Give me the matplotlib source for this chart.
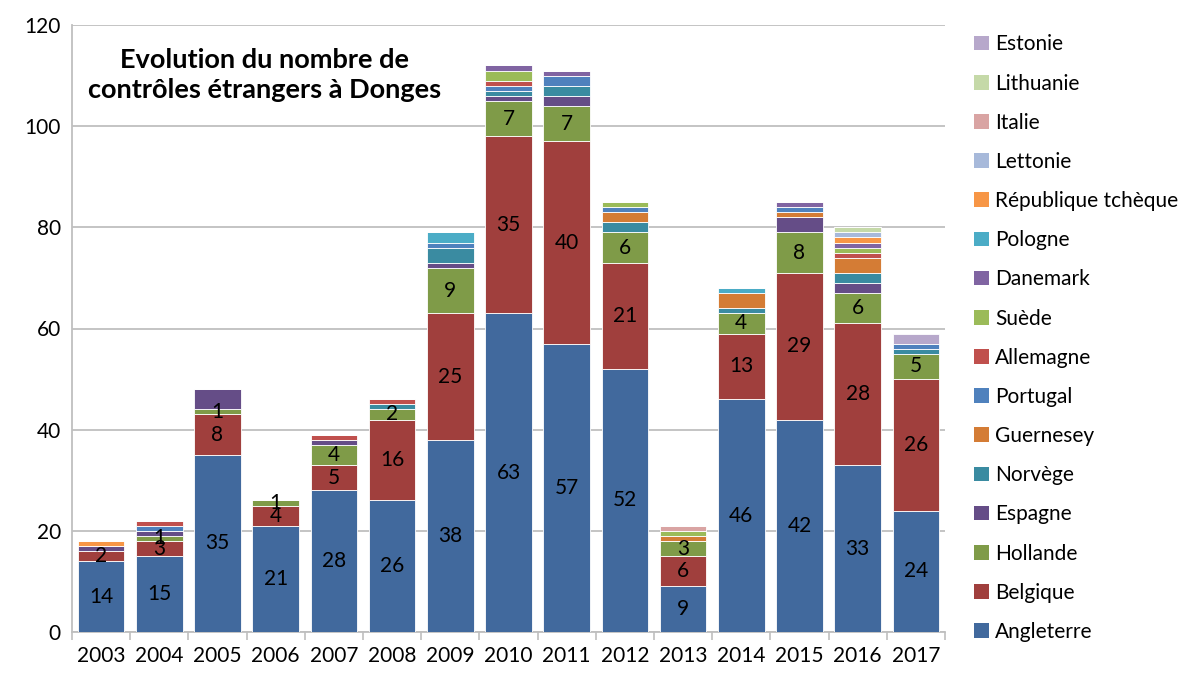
import matplotlib
matplotlib.use("Agg")
import matplotlib.pyplot as plt
from matplotlib.patches import Patch
import numpy as np

plt.rcParams['font.family'] = ['Lato', 'DejaVu Sans']

years = ['2003', '2004', '2005', '2006', '2007', '2008', '2009', '2010',
         '2011', '2012', '2013', '2014', '2015', '2016', '2017']

series_names = ['Angleterre', 'Belgique', 'Hollande', 'Espagne', 'Norvège',
                'Guernesey', 'Portugal', 'Allemagne', 'Suède', 'Danemark',
                'Pologne', 'République tchèque', 'Lettonie', 'Italie',
                'Lithuanie', 'Estonie']

angleterre = [14, 15, 35, 21, 28, 26, 38, 63, 57, 52, 9, 46, 42, 33, 24]
belgique   = [2, 3, 8, 4, 5, 16, 25, 35, 40, 21, 6, 13, 29, 28, 26]
hollande   = [0, 1, 1, 1, 4, 2, 9, 7, 7, 6, 3, 4, 8, 6, 5]
espagne    = [1, 1, 4, 0, 1, 0, 1, 1, 2, 0, 0, 0, 3, 2, 0]
norvege    = [0, 0, 0, 0, 0, 1, 3, 1, 2, 2, 0, 1, 0, 2, 1]
guernesey  = [0, 0, 0, 0, 0, 0, 0, 0, 0, 2, 1, 3, 1, 3, 0]
portugal   = [0, 1, 0, 0, 0, 0, 1, 1, 2, 1, 0, 0, 1, 0, 1]
allemagne  = [0, 1, 0, 0, 1, 1, 0, 1, 0, 0, 0, 0, 0, 1, 0]
suede      = [0, 0, 0, 0, 0, 0, 0, 2, 0, 1, 1, 0, 0, 1, 0]
danemark   = [0, 0, 0, 0, 0, 0, 0, 1, 1, 0, 0, 0, 1, 1, 0]
pologne    = [0, 0, 0, 0, 0, 0, 2, 0, 0, 0, 0, 1, 0, 0, 0]
rep_tcheque = [1, 0, 0, 0, 0, 0, 0, 0, 0, 0, 0, 0, 0, 1, 0]
lettonie   = [0, 0, 0, 0, 0, 0, 0, 0, 0, 0, 0, 0, 0, 1, 0]
italie     = [0, 0, 0, 0, 0, 0, 0, 0, 0, 0, 1, 0, 0, 0, 0]
lithuanie  = [0, 0, 0, 0, 0, 0, 0, 0, 0, 0, 0, 0, 0, 1, 0]
estonie    = [0, 0, 0, 0, 0, 0, 0, 0, 0, 0, 0, 0, 0, 0, 2]

series_values = [angleterre, belgique, hollande, espagne, norvege, guernesey,
                 portugal, allemagne, suede, danemark, pologne, rep_tcheque,
                 lettonie, italie, lithuanie, estonie]

colors = ['#41699D', '#A03F3D', '#7F9B48', '#654D87', '#3A8BA1', '#D47C35',
          '#4F81BD', '#C0504D', '#9BBB59', '#8064A2', '#4BACC6', '#F79646',
          '#A7B9DA', '#D9A4A3', '#C5D9A8', '#B7A8CB']

labelled = {'Angleterre', 'Belgique', 'Hollande'}

title = "Evolution du nombre de\ncontrôles étrangers à Donges"

fig = plt.figure(figsize=(11.9, 6.73), dpi=100)
ax = fig.add_axes([72/1190, 41/673, (945-72)/1190, (632-25)/673])

x = np.arange(len(years))
bottom = np.zeros(len(years))
handles = []
for name, vals, col in zip(series_names, series_values, colors):
    vals = np.array(vals, dtype=float)
    ax.bar(x, vals, width=0.8, bottom=bottom, color=col,
           edgecolor='white', linewidth=0.6, zorder=3)
    if name in labelled:
        for xi, v, b in zip(x, vals, bottom):
            if v > 0:
                ax.text(xi, b + v / 2, f"{int(v)}", ha='center', va='center',
                        fontsize=15, color='black', zorder=5)
    bottom += vals
    handles.append(Patch(facecolor=col, edgecolor='none', label=name))

ax.set_xlim(-0.5, len(years) - 0.5)
ax.set_ylim(0, 120)
ax.set_yticks(np.arange(0, 121, 20))
ax.set_xticks(x)
ax.set_xticklabels(years)
ax.tick_params(axis='both', labelsize=15, length=0, pad=8)
ax.tick_params(axis='x', pad=10)
ax.set_xticks(np.arange(-0.5, len(years), 1), minor=True)
ax.tick_params(axis='x', which='minor', length=6, color='#BFBFBF', width=1.2)
ax.grid(axis='y', color='#BFBFBF', linewidth=1.3, zorder=0)
ax.set_axisbelow(True)
for s in ['top', 'right']:
    ax.spines[s].set_visible(False)
ax.spines['left'].set_color('#BFBFBF')
ax.spines['left'].set_linewidth(1.3)
ax.spines['bottom'].set_color('#BFBFBF')
ax.spines['bottom'].set_linewidth(1.3)

fig.text(265/1190, 1 - 75/673, title, ha='center', va='center',
         fontsize=19.5, fontweight='bold', linespacing=1.35)

fig.legend(handles=handles[::-1], loc='upper left',
           bbox_to_anchor=(966/1190, 1 - 26/673), frameon=False,
           fontsize=15, handlelength=0.7, handleheight=0.7,
           handletextpad=0.3, labelspacing=0.92, borderaxespad=0)

fig.savefig('out.png', dpi=100)
